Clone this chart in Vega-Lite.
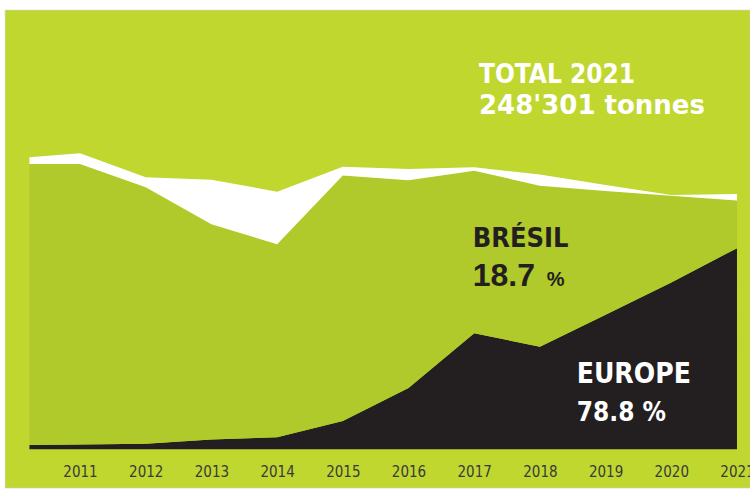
{
  "$schema": "https://vega.github.io/schema/vega-lite/v6.json",
  "width": 745,
  "height": 478,
  "autosize": {"type": "none"},
  "padding": {"left": 5, "top": 10, "right": 0, "bottom": 5},
  "background": "#ffffff",
  "config": {
    "view": {"fill": "#c0d730", "stroke": "#d0d0d0", "strokeWidth": 0.6}
  },
  "layer": [
    {
      "data": {
        "values": [
          {"annee": 2010.23, "serie": "Europe", "tonnes": 4180},
          {"annee": 2010.23, "serie": "Brésil", "tonnes": 273360},
          {"annee": 2010.23, "serie": "Autres", "tonnes": 6520},
          {"annee": 2011, "serie": "Europe", "tonnes": 4670},
          {"annee": 2011, "serie": "Brésil", "tonnes": 272870},
          {"annee": 2011, "serie": "Autres", "tonnes": 10410},
          {"annee": 2012, "serie": "Europe", "tonnes": 5450},
          {"annee": 2012, "serie": "Brésil", "tonnes": 249420},
          {"annee": 2012, "serie": "Autres", "tonnes": 9730},
          {"annee": 2013, "serie": "Europe", "tonnes": 9530},
          {"annee": 2013, "serie": "Brésil", "tonnes": 209350},
          {"annee": 2013, "serie": "Autres", "tonnes": 43390},
          {"annee": 2014, "serie": "Europe", "tonnes": 11670},
          {"annee": 2014, "serie": "Brésil", "tonnes": 187750},
          {"annee": 2014, "serie": "Autres", "tonnes": 51170},
          {"annee": 2015, "serie": "Europe", "tonnes": 27530},
          {"annee": 2015, "serie": "Brésil", "tonnes": 238820},
          {"annee": 2015, "serie": "Autres", "tonnes": 8560},
          {"annee": 2016, "serie": "Europe", "tonnes": 59630},
          {"annee": 2016, "serie": "Brésil", "tonnes": 202050},
          {"annee": 2016, "serie": "Autres", "tonnes": 11000},
          {"annee": 2017, "serie": "Europe", "tonnes": 112840},
          {"annee": 2017, "serie": "Brésil", "tonnes": 158180},
          {"annee": 2017, "serie": "Autres", "tonnes": 3310},
          {"annee": 2018, "serie": "Europe", "tonnes": 99810},
          {"annee": 2018, "serie": "Brésil", "tonnes": 156620},
          {"annee": 2018, "serie": "Autres", "tonnes": 10900},
          {"annee": 2019, "serie": "Europe", "tonnes": 130840},
          {"annee": 2019, "serie": "Brésil", "tonnes": 120430},
          {"annee": 2019, "serie": "Autres", "tonnes": 5840},
          {"annee": 2020, "serie": "Europe", "tonnes": 162360},
          {"annee": 2020, "serie": "Brésil", "tonnes": 84340},
          {"annee": 2020, "serie": "Autres", "tonnes": 690},
          {"annee": 2021, "serie": "Europe", "tonnes": 195661},
          {"annee": 2021, "serie": "Brésil", "tonnes": 46432},
          {"annee": 2021, "serie": "Autres", "tonnes": 6208}
        ]
      },
      "mark": {"type": "area", "interpolate": "linear"},
      "encoding": {
        "x": {
          "field": "annee",
          "type": "quantitative",
          "scale": {"domain": [2009.858, 2021.198], "nice": false, "zero": false},
          "axis": {
            "title": null,
            "values": [2011, 2012, 2013, 2014, 2015, 2016, 2017, 2018, 2019, 2020, 2021],
            "format": "d",
            "domain": false,
            "ticks": false,
            "grid": false,
            "labelFlush": false,
            "labelOverlap": false,
            "labelPadding": 0,
            "labelBaseline": "top",
            "offset": -24,
            "labelFont": "'DejaVu Sans Condensed', 'Liberation Sans', sans-serif",
            "labelFontSize": 15,
            "labelColor": "#3a3a3a"
          }
        },
        "y": {
          "field": "tonnes",
          "type": "quantitative",
          "stack": "zero",
          "scale": {"domain": [-37640, 427300], "nice": false, "zero": false},
          "axis": null
        },
        "color": {
          "field": "serie",
          "type": "nominal",
          "scale": {"domain": ["Europe", "Brésil", "Autres"], "range": ["#231f20", "#b0c92b", "#ffffff"]},
          "legend": null
        },
        "order": {"field": "serie", "sort": "descending"}
      }
    },
    {
      "data": {"values": [{"annee": 2017.073, "tonnes": 356630, "texte": "TOTAL 2021"}]},
      "mark": {"type": "text", "align": "left", "baseline": "alphabetic", "font": "'DejaVu Sans Condensed', 'Liberation Sans', sans-serif", "fontWeight": "bold", "fontSize": 26, "color": "#ffffff"},
      "encoding": {"x": {"field": "annee", "type": "quantitative"}, "y": {"field": "tonnes", "type": "quantitative"}, "text": {"field": "texte"}}
    },
    {
      "data": {"values": [{"annee": 2017.073, "tonnes": 326180, "texte": "248'301 tonnes"}]},
      "mark": {"type": "text", "align": "left", "baseline": "alphabetic", "font": "DejaVu Sans", "fontWeight": "bold", "fontSize": 26, "color": "#ffffff"},
      "encoding": {"x": {"field": "annee", "type": "quantitative"}, "y": {"field": "tonnes", "type": "quantitative"}, "text": {"field": "texte"}}
    },
    {
      "data": {"values": [{"annee": 2016.977, "tonnes": 196510, "texte": "BRÉSIL"}]},
      "mark": {"type": "text", "align": "left", "baseline": "alphabetic", "font": "'DejaVu Sans Condensed', 'Liberation Sans', sans-serif", "fontWeight": "bold", "fontSize": 27, "color": "#231f20"},
      "encoding": {"x": {"field": "annee", "type": "quantitative"}, "y": {"field": "tonnes", "type": "quantitative"}, "text": {"field": "texte"}}
    },
    {
      "data": {"values": [{"annee": 2016.977, "tonnes": 158860, "texte": "18.7"}]},
      "mark": {"type": "text", "align": "left", "baseline": "alphabetic", "font": "Liberation Sans", "fontWeight": "bold", "fontSize": 32, "color": "#231f20"},
      "encoding": {"x": {"field": "annee", "type": "quantitative"}, "y": {"field": "tonnes", "type": "quantitative"}, "text": {"field": "texte"}}
    },
    {
      "data": {"values": [{"annee": 2018.103, "tonnes": 158860, "texte": "%"}]},
      "mark": {"type": "text", "align": "left", "baseline": "alphabetic", "font": "Liberation Sans", "fontWeight": "bold", "fontSize": 20, "color": "#231f20"},
      "encoding": {"x": {"field": "annee", "type": "quantitative"}, "y": {"field": "tonnes", "type": "quantitative"}, "text": {"field": "texte"}}
    },
    {
      "data": {"values": [{"annee": 2018.56, "tonnes": 64200, "texte": "EUROPE"}]},
      "mark": {"type": "text", "align": "left", "baseline": "alphabetic", "font": "'DejaVu Sans Condensed', 'Liberation Sans', sans-serif", "fontWeight": "bold", "fontSize": 28, "color": "#ffffff"},
      "encoding": {"x": {"field": "annee", "type": "quantitative"}, "y": {"field": "tonnes", "type": "quantitative"}, "text": {"field": "texte"}}
    },
    {
      "data": {"values": [{"annee": 2018.56, "tonnes": 27820, "texte": "78.8 %"}]},
      "mark": {"type": "text", "align": "left", "baseline": "alphabetic", "font": "'DejaVu Sans Condensed', 'Liberation Sans', sans-serif", "fontWeight": "bold", "fontSize": 26, "color": "#ffffff"},
      "encoding": {"x": {"field": "annee", "type": "quantitative"}, "y": {"field": "tonnes", "type": "quantitative"}, "text": {"field": "texte"}}
    }
  ]
}
